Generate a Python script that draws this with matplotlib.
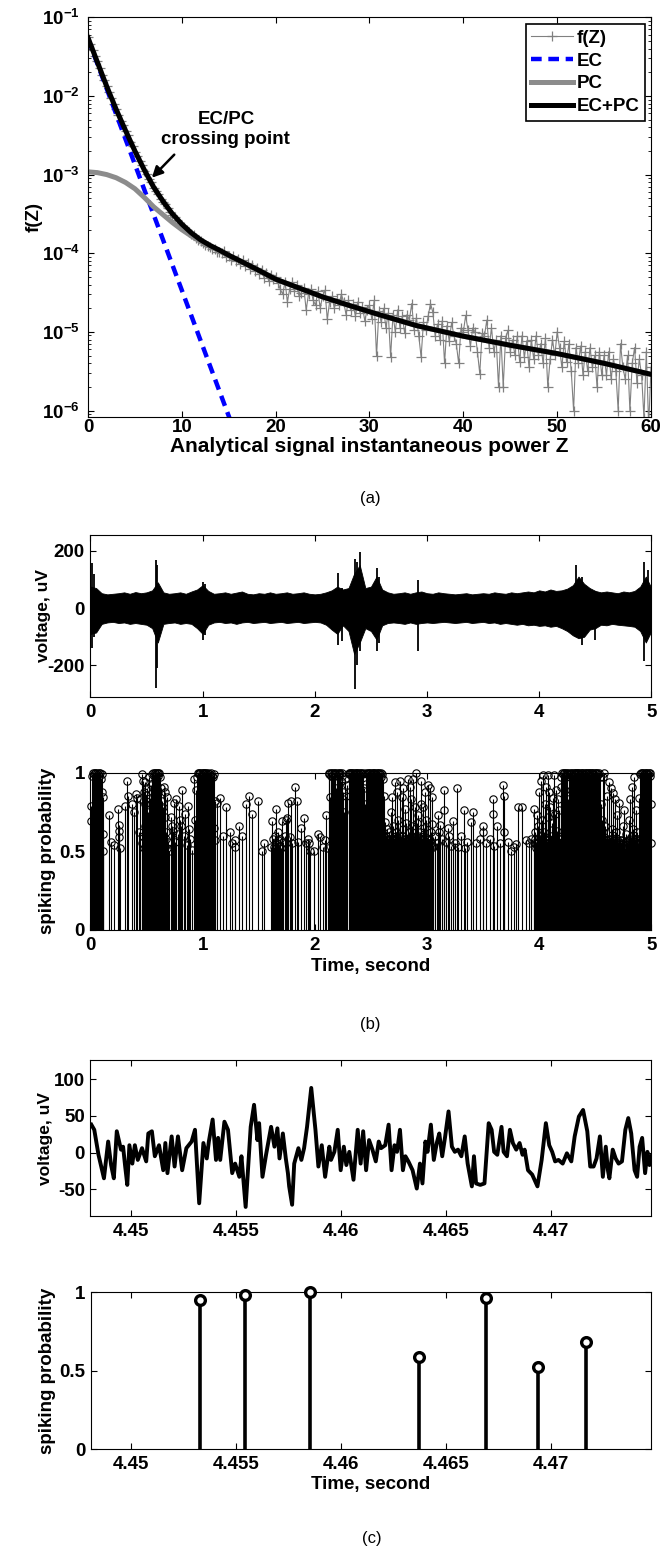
import matplotlib
matplotlib.use("Agg")
import matplotlib.pyplot as plt
import numpy as np
from matplotlib.ticker import FixedLocator, LogLocator, NullFormatter, FuncFormatter

plt.rcParams["font.family"] = ["Liberation Sans", "DejaVu Sans"]
plt.rcParams["font.weight"] = "bold"
plt.rcParams["axes.labelweight"] = "bold"
plt.rcParams["axes.unicode_minus"] = False
plt.rcParams["mathtext.fontset"] = "custom"
plt.rcParams["mathtext.bf"] = "Liberation Sans:bold"
plt.rcParams["mathtext.rm"] = "Liberation Sans:bold"
plt.rcParams["axes.linewidth"] = 0.8

FS = 13.5

# ---------------- panel (a): amplitude distribution ----------------
# measured f(Z), log10 values, Z step 0.25 from 0 to 60
F_LOG10 = [
    -1.25, -1.34, -1.42, -1.49, -1.56, -1.65, -1.73, -1.80, -1.87, -1.95, -2.03, -2.10, -2.16, -2.24, -2.32, -2.37,
    -2.45, -2.50, -2.58, -2.64, -2.71, -2.76, -2.83, -2.88, -2.95, -2.99, -3.06, -3.10, -3.17, -3.21, -3.25, -3.31,
    -3.35, -3.38, -3.43, -3.47, -3.51, -3.54, -3.58, -3.61, -3.65, -3.67, -3.70, -3.73, -3.76, -3.77, -3.81, -3.83,
    -3.84, -3.87, -3.89, -3.91, -3.92, -3.95, -3.94, -3.98, -3.99,
    -4.00, -3.97, -4.05, -4.04, -4.08, -4.03, -4.10, -4.07, -4.14, -4.09, -4.16, -4.12,
    -4.20, -4.15, -4.23, -4.19, -4.26, -4.21, -4.31, -4.25, -4.35, -4.28, -4.33, -4.30,
    -4.38, -4.46, -4.52, -4.36, -4.62, -4.45, -4.37, -4.48, -4.41, -4.55, -4.50, -4.44,
    -4.72, -4.52, -4.46, -4.60, -4.66, -4.48, -4.70, -4.54, -4.47, -4.84, -4.62, -4.55,
    -4.70, -4.58, -4.66, -4.52, -4.62, -4.78, -4.60, -4.72, -4.65, -4.80, -4.62, -4.76,
    -4.68, -4.86, -4.72, -4.66, -4.84, -4.60, -5.31, -4.74, -4.88, -4.70, -4.95, -4.76,
    -5.32, -4.78, -5.00, -4.72, -4.95, -4.80, -5.02, -4.78, -4.85, -4.64, -4.98, -4.82,
    -5.05, -5.32, -4.88, -4.98, -4.80, -4.64, -4.75, -5.05, -4.90, -5.10, -4.86, -5.40,
    -4.92, -5.12, -4.88, -5.05, -5.15, -5.40, -4.95, -5.00, -4.79, -4.98, -5.18, -4.95,
    -5.00, -5.25, -5.53, -5.02, -5.05, -4.85, -5.20, -4.95, -5.25, -5.10, -5.70, -5.05,
    -5.70, -5.08, -4.98, -5.25, -5.10, -5.30, -5.05, -5.38, -5.05, -5.32, -5.12, -5.45,
    -5.10, -5.35, -5.05, -5.30, -5.15, -5.40, -5.08, -5.70, -5.35, -5.10, -5.30, -5.00,
    -5.20, -5.45, -5.12, -5.38, -5.15, -5.50, -6.00, -5.20, -5.40, -5.18, -5.55, -5.25,
    -5.50, -5.20, -5.45, -5.30, -5.70, -5.25, -5.55, -5.30, -5.55, -5.25, -5.60, -5.35,
    -5.50, -6.00, -5.15, -5.45, -5.60, -5.30, -6.00, -5.40, -5.20, -5.65, -5.35, -5.55,
    -6.10, -5.25, -6.20, -5.45,
]
F_Z = np.arange(len(F_LOG10)) * 0.25

EC_Z = [0, 1, 2, 3, 4, 5, 6, 7, 8, 9, 10, 11, 12, 13, 14, 15, 16]
EC_LOG10 = [-1.27, -1.59, -1.91, -2.23, -2.55, -2.87, -3.19, -3.51, -3.83,
            -4.15, -4.47, -4.79, -5.11, -5.43, -5.75, -6.07, -6.39]

FIT_Z = [0, 1, 2, 3, 4, 5, 6, 7, 8, 9, 10, 11, 12, 13, 14, 15, 16,
         18, 20, 22, 25, 28, 31, 35, 40, 45, 50, 55, 60]
PC_LOG10 = [-2.965, -2.975, -3.00, -3.04, -3.10, -3.18, -3.29, -3.41, -3.51,
            -3.61, -3.70, -3.78, -3.85, -3.91, -3.97, -4.03, -4.085,
            -4.205, -4.33, -4.42, -4.555, -4.67, -4.78, -4.92, -5.055, -5.17,
            -5.276, -5.40, -5.54]
SUM_LOG10 = [-1.26, -1.57, -1.88, -2.17, -2.44, -2.70, -2.94, -3.16, -3.34,
             -3.50, -3.63, -3.74, -3.83, -3.90, -3.96, -4.025, -4.085,
             -4.205, -4.33, -4.42, -4.555, -4.67, -4.78, -4.92, -5.055, -5.17,
             -5.276, -5.40, -5.54]

# ---------------- panel (b): 5 s of raw signal ----------------
ENV_UP = [75, 70, 52, 48, 50, 52, 55, 50, 56, 52, 55, 62, 90, 55, 50, 52, 55, 50, 58, 65,
          80, 60, 50, 52, 55, 50, 54, 58, 50, 48, 52, 50, 55, 50, 52, 55, 50, 52, 55, 50,
          48, 50, 55, 62, 75, 65, 70, 120, 150, 70, 75, 110, 65, 55, 50, 52, 55, 50, 55, 58,
          52, 50, 55, 52, 50, 48, 50, 52, 48, 50, 52, 50, 55, 52, 50, 55, 52, 55, 58, 55,
          62, 58, 65, 60, 62, 68, 80, 110, 85, 70, 60, 55, 58, 55, 52, 58, 55, 60, 75, 110,
          70]
ENV_LO = [-90, -85, -55, -50, -48, -52, -50, -55, -52, -55, -58, -70, -120, -55, -52, -50, -55, -52, -55, -70,
          -90, -58, -50, -48, -52, -50, -55, -50, -48, -52, -50, -48, -52, -50, -48, -52, -50, -48, -52, -50,
          -48, -50, -58, -75, -90, -60, -80, -160, -120, -70, -80, -110, -60, -52, -50, -52, -55, -50, -55, -52,
          -50, -52, -50, -48, -50, -52, -50, -48, -52, -50, -48, -52, -50, -55, -52, -55, -58, -55, -60, -58,
          -62, -60, -65, -62, -70, -80, -95, -105, -100, -75, -70, -58, -60, -55, -58, -60, -62, -65, -80, -120,
          -80]
ENV_T = np.linspace(0, 5, len(ENV_UP))

# (time, max, min) of the large deflections
SPIKES_B = [(0.015, 156, -139), (0.03, 120, -100), (0.58, 168, -277), (0.595, 150, -210),
            (1.00, 92, -110), (1.02, 85, -95), (2.21, 121, -127), (2.24, 70, -116),
            (2.36, 173, -283), (2.38, 160, -200), (2.40, 196, -150), (2.55, 139, -150),
            (2.57, 110, -120), (2.92, 98, -150), (4.33, 150, -100), (4.38, 110, -127),
            (4.50, 60, -110), (4.93, 162, -185), (4.97, 133, -98)]

# spiking probability (time, p)
PROB_B_0 = [
    (0.003, .69), (0.005, .79), (0.015, .98), (0.022, 1.0), (0.030, .99), (0.037, 1.0), (0.044, 1.0),
    (0.051, .97), (0.058, 1.0), (0.066, .99), (0.073, 1.0), (0.080, .98), (0.087, 1.0), (0.094, .96),
    (0.100, .99), (0.104, .88), (0.108, .845), (0.110, .61), (0.112, .50),
    (0.163, .73), (0.184, .56), (0.208, .54), (0.246, .77), (0.250, .59), (0.253, .67), (0.258, .63),
    (0.267, .52), (0.305, .79), (0.326, .95), (0.335, .855), (0.370, .80), (0.385, .75), (0.406, .866),
    (0.415, .84), (0.432, .62), (0.445, .83),
    (0.460, .99), (0.466, .95), (0.475, .88), (0.483, .80), (0.490, .94), (0.497, .86), (0.504, .90),
    (0.511, .75), (0.519, .97), (0.527, .84), (0.535, .70), (0.543, .92), (0.550, .99), (0.557, 1.0),
    (0.564, .98), (0.571, 1.0), (0.578, 1.0), (0.585, .99), (0.592, 1.0), (0.599, 1.0), (0.606, .98),
    (0.613, 1.0), (0.620, .97), (0.628, .90), (0.636, .82), (0.644, .78), (0.652, .91), (0.660, .72),
    (0.667, .88), (0.675, .62), (0.682, .845), (0.700, .50), (0.720, .72), (0.726, .66), (0.733, .63),
    (0.741, .81), (0.752, .56), (0.765, .83), (0.776, .61), (0.786, .79), (0.800, .70), (0.803, .66),
    (0.815, .89), (0.830, .60), (0.845, .74), (0.860, .54), (0.870, .79), (0.880, .64), (0.890, .58),
    (0.905, .51), (0.920, .96), (0.932, .70), (0.940, .89),
]
PROB_B_1 = [
    (0.950, .97), (0.957, 1.0), (0.964, .99), (0.971, 1.0), (0.978, 1.0), (0.985, .98), (0.992, 1.0),
    (0.999, 1.0), (1.006, .99), (1.013, 1.0), (1.020, 1.0), (1.027, .98), (1.034, 1.0), (1.041, .99),
    (1.048, 1.0), (1.055, .97), (1.062, .98), (1.069, .99), (1.076, 1.0), (1.083, .98), (1.090, .97),
    (1.097, .99), (1.100, .65), (1.106, .82), (1.112, .57), (1.127, .81), (1.157, .84), (1.180, .60),
    (1.207, .78), (1.240, .62), (1.265, .55), (1.284, .575), (1.290, .525), (1.320, .66), (1.350, .60),
    (1.390, .80), (1.410, .855), (1.440, .74), (1.490, .82), (1.530, .50), (1.545, .55),
    (1.605, .53), (1.620, .69), (1.628, .58), (1.636, .525), (1.645, .60), (1.650, .77), (1.660, .55),
    (1.668, .57), (1.675, .625), (1.680, .535), (1.690, .58), (1.700, .52), (1.710, .695), (1.720, .56),
    (1.730, .60), (1.740, .70), (1.750, .71), (1.765, .81), (1.780, .59), (1.790, .82), (1.800, .55),
    (1.820, .91), (1.840, .82), (1.850, .56), (1.880, .65), (1.900, .71), (1.920, .55), (1.940, .58),
    (1.945, .55), (1.960, .50), (1.990, .50), (2.030, .61), (2.050, .59), (2.070, .53), (2.090, .57),
    (2.100, .73), (2.115, .52),
]
PROB_B_2 = [
    (2.122, 1.0), (2.129, .99), (2.135, .845), (2.141, 1.0), (2.148, .98), (2.155, 1.0), (2.162, .97),
    (2.169, 1.0), (2.176, 1.0), (2.183, .99), (2.190, .90), (2.197, 1.0), (2.204, .98), (2.211, 1.0),
    (2.218, .99), (2.225, 1.0), (2.232, .95), (2.239, 1.0), (2.246, .98), (2.255, .88), (2.262, .75),
    (2.270, .96), (2.280, .85), (2.290, .92),
    (2.300, 1.0), (2.307, .99), (2.314, 1.0), (2.321, 1.0), (2.328, .98), (2.335, 1.0), (2.342, 1.0),
    (2.349, .99), (2.356, 1.0), (2.363, 1.0), (2.370, .97), (2.377, 1.0), (2.384, 1.0), (2.391, .99),
    (2.398, 1.0), (2.405, .98), (2.412, 1.0), (2.419, .99), (2.426, 1.0), (2.435, .90), (2.445, .80),
    (2.452, .93),
    (2.460, 1.0), (2.467, .99), (2.474, 1.0), (2.481, 1.0), (2.488, .98), (2.495, 1.0), (2.502, .99),
    (2.509, 1.0), (2.516, 1.0), (2.523, .97), (2.530, 1.0), (2.537, 1.0), (2.544, .99), (2.551, 1.0),
    (2.558, .98), (2.565, 1.0), (2.572, 1.0), (2.579, .99), (2.586, 1.0), (2.593, .97), (2.600, .99),
    (2.607, .96),
    (2.613, .855), (2.620, .60), (2.625, .685), (2.632, .55), (2.640, .64), (2.648, .52), (2.655, .57),
    (2.662, .62), (2.670, .53), (2.678, .75), (2.685, .845), (2.692, .58), (2.700, .66), (2.708, .54),
    (2.715, .94), (2.722, .62), (2.730, .875), (2.738, .56), (2.745, .70), (2.752, .60), (2.760, .95),
    (2.768, .55), (2.775, .845), (2.782, .64), (2.790, .90), (2.800, .77), (2.808, .58), (2.815, .68),
    (2.822, .52), (2.830, .96), (2.838, .62), (2.845, .91), (2.852, .57), (2.860, .83), (2.868, .66),
    (2.875, .96), (2.882, .55), (2.890, .78), (2.898, .60), (2.905, 1.0), (2.912, .68), (2.920, .73),
    (2.928, .56), (2.935, .62), (2.942, .80), (2.950, .95), (2.958, .58), (2.965, .78), (2.972, .65),
    (2.980, .875), (2.988, .54), (2.995, .70), (3.010, .92), (3.018, .58), (3.025, .90), (3.032, .62),
    (3.040, .845), (3.045, .675), (3.055, .535),
]
PROB_B_3 = [
    (3.070, .60), (3.085, .55), (3.100, .73), (3.105, .62), (3.115, .665), (3.130, .58), (3.150, .89),
    (3.155, .76), (3.170, .56), (3.190, .65), (3.200, .60), (3.215, .535), (3.230, .695), (3.250, .55),
    (3.270, .90), (3.275, .525), (3.300, .60), (3.330, .76), (3.335, .52), (3.360, .56), (3.395, .685),
    (3.410, .75), (3.440, .55), (3.470, .58), (3.495, .62), (3.500, .66), (3.530, .55), (3.560, .58),
    (3.590, .83), (3.592, .74), (3.600, .535), (3.625, .66), (3.650, .55), (3.675, .92), (3.685, .855),
    (3.688, .62), (3.720, .56), (3.750, .50), (3.775, .53), (3.795, .545), (3.815, .78), (3.850, .78),
    (3.885, .57), (3.910, .55), (3.930, .58),
    (3.950, .77), (3.960, .62), (3.970, .55), (3.980, .73), (3.990, .66), (4.000, .88), (4.008, .58),
    (4.015, .95), (4.022, .70), (4.035, .985), (4.045, .62), (4.052, .80), (4.060, .91), (4.068, .55),
    (4.075, .72), (4.080, .985), (4.090, .88), (4.100, .78), (4.108, .60), (4.115, .68), (4.123, .84),
    (4.130, .985), (4.138, .56), (4.145, .74), (4.150, .89), (4.158, .63), (4.165, .83), (4.172, .58),
    (4.180, .76), (4.190, .91), (4.196, .97),
]
PROB_B_4 = [
    (4.203, 1.0), (4.210, .99), (4.217, 1.0), (4.224, 1.0), (4.231, .98), (4.238, 1.0), (4.240, .975),
    (4.245, .99), (4.252, 1.0), (4.259, .83), (4.266, 1.0), (4.273, .99), (4.280, .89), (4.287, 1.0),
    (4.294, 1.0), (4.301, .98), (4.308, 1.0), (4.315, 1.0), (4.322, .99), (4.329, 1.0), (4.336, 1.0),
    (4.343, .97), (4.350, 1.0), (4.357, 1.0), (4.364, .99), (4.371, 1.0), (4.378, .98), (4.385, 1.0),
    (4.392, 1.0), (4.399, .99), (4.406, 1.0), (4.413, 1.0), (4.420, .97), (4.427, 1.0), (4.434, .99),
    (4.441, 1.0), (4.448, 1.0), (4.455, .98), (4.462, 1.0), (4.469, 1.0), (4.476, .99), (4.483, 1.0),
    (4.490, .97), (4.497, 1.0), (4.504, 1.0), (4.511, .98), (4.518, 1.0), (4.525, .99), (4.532, 1.0),
    (4.539, .97),
    (4.548, .80), (4.556, .70), (4.565, .975), (4.572, .62), (4.580, 1.0), (4.590, .66), (4.600, .85),
    (4.610, .58), (4.620, .94), (4.630, .56), (4.640, .90), (4.648, .64), (4.655, .87), (4.665, .58),
    (4.675, .83), (4.685, .62), (4.695, .73), (4.710, .805), (4.720, .57), (4.730, .55), (4.745, .66),
    (4.760, .76), (4.770, .61), (4.790, .55), (4.800, .70), (4.810, .83), (4.818, .59), (4.825, .91),
    (4.835, .64), (4.845, .975), (4.855, .58), (4.865, .76), (4.872, .62), (4.880, .55), (4.890, .84),
    (4.900, .99), (4.907, 1.0), (4.914, 1.0), (4.921, .98), (4.928, 1.0), (4.935, .99), (4.942, 1.0),
    (4.949, 1.0), (4.956, .97), (4.963, 1.0), (4.970, .99), (4.977, 1.0), (4.984, .98), (4.991, 1.0),
    (4.996, .80), (4.998, .55),
]
# low stems packed inside the busy stretches (circles hidden in the black mass)
PROB_B_LOW = [
    (0.455, .55), (0.470, .60), (0.480, .52), (0.487, .66), (0.494, .58), (0.500, .62), (0.508, .55),
    (0.515, .60), (0.523, .57), (0.531, .53), (0.539, .60), (0.546, .56), (0.624, .58), (0.632, .62),
    (0.640, .55), (0.648, .60), (0.656, .57), (0.664, .53), (0.671, .58), (0.686, .52), (0.693, .56),
    (2.617, .56), (2.629, .52), (2.636, .60), (2.644, .57), (2.652, .55), (2.659, .58), (2.666, .52),
    (2.674, .60), (2.682, .55), (2.689, .57), (2.696, .53), (2.704, .58), (2.712, .56), (2.719, .54),
    (2.726, .60), (2.734, .52), (2.742, .57), (2.749, .55), (2.756, .58), (2.764, .53), (2.772, .56),
    (2.779, .60), (2.786, .54), (2.795, .58), (2.804, .55), (2.812, .52), (2.819, .57), (2.826, .55),
    (2.834, .58), (2.842, .53), (2.849, .56), (2.856, .60), (2.864, .54), (2.872, .57), (2.879, .52),
    (2.886, .58), (2.894, .55), (2.902, .57), (2.909, .53), (2.916, .60), (2.924, .55), (2.932, .52),
    (2.939, .58), (2.946, .56), (2.954, .53), (2.962, .57), (2.969, .55), (2.976, .60), (2.984, .52),
    (2.992, .56), (3.000, .58), (3.005, .54), (3.014, .55), (3.022, .52), (3.029, .57), (3.036, .55),
    (3.050, .53),
    (3.955, .55), (3.965, .58), (3.975, .52), (3.985, .56), (3.995, .54), (4.004, .60), (4.012, .55),
    (4.019, .52), (4.027, .58), (4.040, .56), (4.049, .53), (4.056, .57), (4.064, .52), (4.071, .55),
    (4.085, .58), (4.095, .54), (4.104, .56), (4.112, .52), (4.119, .57), (4.127, .55), (4.134, .53),
    (4.142, .58), (4.154, .55), (4.161, .52), (4.168, .56), (4.176, .54), (4.184, .58), (4.193, .55),
    (4.552, .56), (4.560, .53), (4.568, .58), (4.576, .55), (4.585, .52), (4.595, .57), (4.605, .54),
    (4.615, .56), (4.625, .53), (4.635, .58), (4.644, .55), (4.652, .52), (4.660, .57), (4.670, .55),
    (4.680, .53), (4.690, .58), (4.700, .55), (4.705, .52), (4.715, .56), (4.725, .53), (4.737, .57),
    (4.752, .55), (4.765, .52), (4.780, .56), (4.795, .53), (4.805, .58), (4.814, .55), (4.822, .52),
    (4.830, .57), (4.840, .54), (4.850, .56), (4.860, .53), (4.868, .55), (4.876, .58), (4.885, .52),
    (4.895, .56),
]

# ---------------- panel (c): zoom 4.448 - 4.475 s ----------------
VOLT_C = [
    (4.44813, 38), (4.44827, 31), (4.44847, -3), (4.44873, -35), (4.44893, 15), (4.44907, -17),
    (4.44920, -35), (4.44934, 29), (4.44954, 4), (4.44964, 8), (4.44974, -19), (4.44984, -44),
    (4.44994, 10), (4.45008, -15), (4.45020, 10), (4.45034, -10), (4.45054, 6), (4.45074, -12),
    (4.45084, 26), (4.45101, 29), (4.45115, -5), (4.45135, 10), (4.45155, -24), (4.45165, 13),
    (4.45175, -28), (4.45195, 22), (4.45209, -19), (4.45225, 22), (4.45245, -24), (4.45265, 6),
    (4.45290, 15), (4.45306, 31), (4.45326, -69), (4.45346, 13), (4.45362, -8), (4.45372, 15),
    (4.45390, 45), (4.45406, -10), (4.45416, 20), (4.45426, -10), (4.45446, 42), (4.45463, 31),
    (4.45483, -28), (4.45497, -15), (4.45517, -33), (4.45527, -5), (4.45547, -74), (4.45571, 35),
    (4.45587, 65), (4.45603, 17), (4.45611, 40), (4.45627, -33), (4.45644, -3), (4.45668, 35),
    (4.45684, 8), (4.45698, 33), (4.45708, -8), (4.45724, 26), (4.45738, -8), (4.45748, -28),
    (4.45754, -46), (4.45768, -71), (4.45778, -15), (4.45798, 6), (4.45812, -10), (4.45825, 6),
    (4.45839, 35), (4.45859, 88), (4.45879, 31), (4.45893, -19), (4.45909, 10), (4.45925, -33),
    (4.45945, 8), (4.45953, -10), (4.45969, 1), (4.45985, 31), (4.45999, -24), (4.46014, 8),
    (4.46026, -17), (4.46040, 1), (4.46060, -37), (4.46080, 31), (4.46094, -15), (4.46106, 29),
    (4.46120, -24), (4.46134, 17), (4.46150, 4), (4.46166, -12), (4.46180, 15), (4.46191, 6),
    (4.46211, 10), (4.46227, 38), (4.46241, -24), (4.46255, 10), (4.46267, 1), (4.46281, 31),
    (4.46295, -24), (4.46307, -5), (4.46321, -12), (4.46341, -24), (4.46361, -49), (4.46376, -15),
    (4.46388, -42), (4.46402, 15), (4.46412, 1), (4.46428, 38), (4.46442, -10), (4.46456, 13),
    (4.46468, 26), (4.46482, -5), (4.46496, 22), (4.46512, 56), (4.46528, 8), (4.46542, 1),
    (4.46557, 4), (4.46573, -5), (4.46589, 22), (4.46603, -15), (4.46623, -46), (4.46633, -5),
    (4.46643, -42), (4.46663, -44), (4.46683, -42), (4.46703, 40), (4.46717, 31), (4.46729, 1),
    (4.46744, -3), (4.46764, 35), (4.46774, 1), (4.46790, -5), (4.46804, 31), (4.46818, 13),
    (4.46834, 4), (4.46850, 13), (4.46864, -3), (4.46874, 4), (4.46890, -24), (4.46910, -30),
    (4.46935, -46), (4.46955, -10), (4.46975, 40), (4.46991, 10), (4.47005, 1), (4.47019, -12),
    (4.47035, -10), (4.47055, -15), (4.47075, -1), (4.47096, -12), (4.47112, 22), (4.47132, 49),
    (4.47152, 58), (4.47172, 29), (4.47186, -19), (4.47202, -19), (4.47216, -8), (4.47232, 22),
    (4.47246, -33), (4.47260, 8), (4.47270, -24), (4.47277, -35), (4.47293, 4), (4.47307, -8),
    (4.47321, -15), (4.47337, -12), (4.47353, 31), (4.47367, 47), (4.47381, 26), (4.47397, -24),
    (4.47409, -33), (4.47421, 8), (4.47433, 20), (4.47447, -28), (4.47458, 1), (4.47468, -17),
    (4.47478, -5),
]
PROB_C_T = [4.45326, 4.45543, 4.45854, 4.46371, 4.46689, 4.46938, 4.47165]
PROB_C_P = [0.95, 0.985, 1.0, 0.585, 0.965, 0.527, 0.684]


def matlab_box(ax, xpad=5, ypad=5):
    ax.tick_params(direction="in", top=True, right=True, length=4, width=0.8, labelsize=FS)
    ax.tick_params(axis="x", pad=xpad)
    ax.tick_params(axis="y", pad=ypad)
    ax.tick_params(which="minor", direction="in", top=False, right=True, length=2, width=0.6)
    for lab in ax.get_xticklabels() + ax.get_yticklabels():
        lab.set_fontweight("bold")


def set_ylabel(ax, text, x, size=FS):
    ax.set_ylabel(text, fontsize=size, fontweight="bold", va="center")
    ax.yaxis.set_label_coords(x, 0.5)


def set_xlabel(ax, text, y, size=FS):
    ax.set_xlabel(text, fontsize=size, fontweight="bold", va="center")
    ax.xaxis.set_label_coords(0.5, y)


def draw_prob_stems(ax, pts, lw, ms, mew, face):
    t = [p[0] for p in pts]
    v = [p[1] for p in pts]
    ax.vlines(t, 0, v, color="black", linewidth=lw, zorder=2)
    ax.plot(t, v, linestyle="none", marker="o", markersize=ms, markeredgewidth=mew,
            markeredgecolor="black", markerfacecolor=face, zorder=3, clip_on=False)


fig = plt.figure(figsize=(6.62, 15.53), dpi=100)

# ---- (a)
ax_a = fig.add_axes([0.1329, 0.73129, 0.8505, 0.25757])
ln_f, = ax_a.semilogy(F_Z, 10.0 ** np.array(F_LOG10), color="#808080", linewidth=0.8,
                      marker="+", markersize=7, markeredgewidth=0.9, label="f(Z)")
ln_ec, = ax_a.semilogy(EC_Z, 10.0 ** np.array(EC_LOG10), color="#0000ff", linewidth=3.2,
                       dashes=(2.4, 1.5), label="EC")
ln_pc, = ax_a.semilogy(FIT_Z, 10.0 ** np.array(PC_LOG10), color="#8c8c8c", linewidth=3.6,
                       label="PC")
ln_sum, = ax_a.semilogy(FIT_Z, 10.0 ** np.array(SUM_LOG10), color="black", linewidth=3.6,
                        label="EC+PC")
ax_a.set_xlim(0, 60)
ax_a.set_ylim(8.2e-7, 1e-1)
ax_a.set_xticks([0, 10, 20, 30, 40, 50, 60])
ax_a.yaxis.set_major_locator(FixedLocator([1e-6, 1e-5, 1e-4, 1e-3, 1e-2, 1e-1]))
ax_a.yaxis.set_minor_locator(LogLocator(base=10, subs=np.arange(2, 10)))
ax_a.yaxis.set_minor_formatter(NullFormatter())
ax_a.yaxis.set_major_formatter(FuncFormatter(lambda v, p: r"$\mathbf{10^{%d}}$" % round(np.log10(v))))
matlab_box(ax_a, xpad=1.5, ypad=6)
set_ylabel(ax_a, "f(Z)", -0.096)
set_xlabel(ax_a, "Analytical signal instantaneous power Z", -0.072, size=15)

leg = ax_a.legend(handles=[ln_f, ln_ec, ln_pc, ln_sum], loc="upper right",
                  bbox_to_anchor=(0.989, 0.983), borderaxespad=0, frameon=True, fancybox=False,
                  framealpha=1, edgecolor="black", fontsize=FS, handlelength=2.2,
                  handletextpad=0.2, labelspacing=0.3, borderpad=0.3)
leg.get_frame().set_linewidth(1.2)
for txt in leg.get_texts():
    txt.set_fontweight("bold")

ax_a.text(0.245, 0.72, "EC/PC\ncrossing point", transform=ax_a.transAxes, ha="center",
          va="center", fontsize=FS, fontweight="bold", linespacing=1.2)
ax_a.annotate("", xy=(6.6, 8.6e-4), xytext=(9.4, 1.9e-3),
              arrowprops=dict(arrowstyle="-|>", color="black", lw=1.8, mutation_scale=16))

fig.text(0.559, 1 - 498 / 1553, "(a)", ha="center", va="center", fontsize=12, fontweight="normal")

# ---- (b) voltage
ax_b1 = fig.add_axes([0.1367, 0.55119, 0.8473, 0.10432])
ax_b1.fill_between(ENV_T, ENV_LO, ENV_UP, color="black", linewidth=0.6, edgecolor="black")
ax_b1.vlines([s[0] for s in SPIKES_B], [s[2] for s in SPIKES_B], [s[1] for s in SPIKES_B],
             color="black", linewidth=1.3)
ax_b1.set_xlim(0, 5)
ax_b1.set_ylim(-310, 255)
ax_b1.set_xticks([0, 1, 2, 3, 4, 5])
ax_b1.set_yticks([-200, 0, 200])
matlab_box(ax_b1, xpad=5, ypad=4)
set_ylabel(ax_b1, "voltage, uV", -0.084, size=12.5)

# ---- (b) spiking probability
ax_b2 = fig.add_axes([0.1367, 0.40116, 0.8473, 0.10129])
prob_b = PROB_B_0 + PROB_B_1 + PROB_B_2 + PROB_B_3 + PROB_B_4
draw_prob_stems(ax_b2, PROB_B_LOW, lw=0.8, ms=5.3, mew=0.8, face="none")
draw_prob_stems(ax_b2, prob_b, lw=0.8, ms=5.3, mew=0.8, face="none")
ax_b2.set_xlim(0, 5)
ax_b2.set_ylim(0, 1)
ax_b2.set_xticks([0, 1, 2, 3, 4, 5])
ax_b2.set_yticks([0, 0.5, 1])
ax_b2.set_yticklabels(["0", "0.5", "1"])
matlab_box(ax_b2, xpad=5, ypad=4)
set_ylabel(ax_b2, "spiking probability", -0.076)
set_xlabel(ax_b2, "Time, second", -0.233)

fig.text(0.559, 1 - 1025 / 1553, "(b)", ha="center", va="center", fontsize=12, fontweight="normal")

# ---- (c) voltage zoom
C_XLIM = (4.44809, 4.47477)
C_TICKS = [4.45, 4.455, 4.46, 4.465, 4.47]
C_TICKLABELS = ["4.45", "4.455", "4.46", "4.465", "4.47"]

ax_c1 = fig.add_axes([0.1367, 0.21668, 0.8473, 0.10077])
ax_c1.plot([p[0] for p in VOLT_C], [p[1] for p in VOLT_C], color="black", linewidth=2.8,
           solid_joinstyle="round")
ax_c1.set_xlim(*C_XLIM)
ax_c1.set_ylim(-87, 126)
ax_c1.set_xticks(C_TICKS)
ax_c1.set_xticklabels(C_TICKLABELS)
ax_c1.set_yticks([-50, 0, 50, 100])
matlab_box(ax_c1, xpad=5, ypad=4)
set_ylabel(ax_c1, "voltage, uV", -0.081, size=12.5)

# ---- (c) spiking probability zoom
ax_c2 = fig.add_axes([0.1375, 0.06677, 0.8460, 0.1011])
draw_prob_stems(ax_c2, list(zip(PROB_C_T, PROB_C_P)), lw=2.6, ms=7, mew=2.4, face="white")
ax_c2.set_xlim(*C_XLIM)
ax_c2.set_ylim(0, 1)
ax_c2.set_xticks(C_TICKS)
ax_c2.set_xticklabels(C_TICKLABELS)
ax_c2.set_yticks([0, 0.5, 1])
ax_c2.set_yticklabels(["0", "0.5", "1"])
matlab_box(ax_c2, xpad=5, ypad=4)
set_ylabel(ax_c2, "spiking probability", -0.0775)
set_xlabel(ax_c2, "Time, second", -0.227)

fig.text(0.562, 1 - 1538 / 1553, "(c)", ha="center", va="center", fontsize=12, fontweight="normal")

fig.savefig("out.png", dpi=100)
